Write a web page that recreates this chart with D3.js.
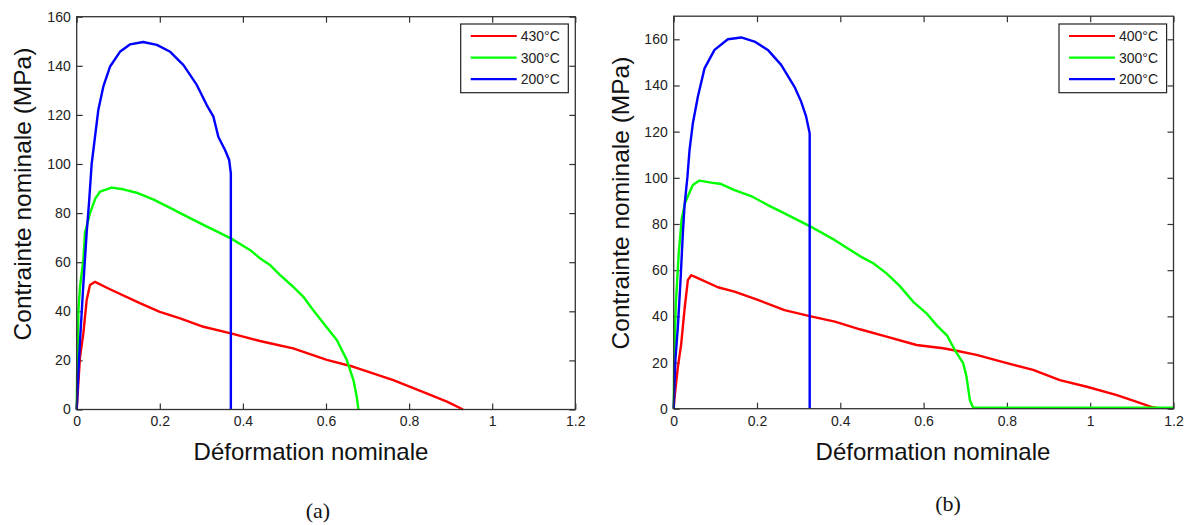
<!DOCTYPE html>
<html><head><meta charset="utf-8">
<script src="https://cdn.jsdelivr.net/npm/d3@7"></script>
<style>
html,body{margin:0;padding:0;background:#fff;}
svg{display:block;font-family:"Liberation Sans",Arial,sans-serif;}
</style></head>
<body><svg id="c" width="1187" height="525"></svg>
<script>
// ---------- data ----------
const xTicks = [0, 0.2, 0.4, 0.6, 0.8, 1, 1.2];
const xTickLabels = ["0", "0.2", "0.4", "0.6", "0.8", "1", "1.2"];
const yTicks = [0, 20, 40, 60, 80, 100, 120, 140, 160];
const yTickLabels = ["0", "20", "40", "60", "80", "100", "120", "140", "160"];
const yMaxA = 160, yMaxB = 170, xMax = 1.2;
const legendA = ["430°C", "300°C", "200°C"];
const legendB = ["400°C", "300°C", "200°C"];
const seriesColors = ["#ff0000", "#00ff00", "#0000ff"];
const xLabel = "Déformation nominale";
const yLabel = "Contrainte nominale (MPa)";
const captions = ["(a)", "(b)"];

// panel (a)
const a430 = [[0,0],[0.0015,4],[0.008,21.5],[0.016,31],[0.024,44.6],[0.032,50.7],[0.044,52],[0.080,49],[0.152,43.3],[0.200,39.8],[0.249,37.1],[0.305,33.7],[0.371,31],[0.441,27.9],[0.465,27],[0.521,24.9],[0.602,20.2],[0.666,17.4],[0.762,12],[0.842,6.6],[0.891,3.2],[0.930,0]];
const a300 = [[0,0],[0.001,15],[0.003,28],[0.004,40],[0.008,50],[0.016,61],[0.020,72],[0.032,80],[0.045,86],[0.056,88.7],[0.084,90.4],[0.112,89.7],[0.144,88.3],[0.184,85.6],[0.232,81.5],[0.249,80],[0.305,75.2],[0.371,69.7],[0.417,65],[0.441,61.6],[0.465,58.9],[0.489,54.8],[0.521,50],[0.545,46],[0.569,40.5],[0.594,35.1],[0.626,28.3],[0.650,20.2],[0.666,12],[0.674,5.2],[0.678,0]];
const a200 = [[0,0],[0.004,15],[0.008,28],[0.016,51],[0.024,72],[0.030,85],[0.036,100],[0.044,111],[0.052,122],[0.064,131.5],[0.080,139.6],[0.104,145.7],[0.128,148.7],[0.160,149.7],[0.193,148.5],[0.225,145.7],[0.257,140.3],[0.289,132.2],[0.313,124],[0.329,119.3],[0.341,111],[0.357,105.7],[0.367,101.6],[0.371,96.2],[0.371,0]];
// panel (b)
const b400 = [[0,0],[0.0015,4],[0.010,18],[0.018,28],[0.026,43],[0.034,55.7],[0.042,57.8],[0.050,57.2],[0.106,52.6],[0.146,50.7],[0.202,47.1],[0.266,42.7],[0.3265,40.1],[0.387,37.7],[0.447,34.4],[0.511,31.2],[0.583,27.6],[0.647,26.2],[0.679,25.1],[0.727,23.3],[0.800,19.7],[0.863,16.8],[0.927,12.4],[0.992,9.5],[1.064,5.9],[1.112,3.0],[1.150,0.6],[1.160,0.4]];
const b300 = [[0,0],[0.001,20],[0.005,45],[0.012,67],[0.019,82],[0.027,89],[0.034,92],[0.046,96.9],[0.062,98.8],[0.090,97.9],[0.114,97.3],[0.146,94.7],[0.186,92.1],[0.226,88.2],[0.266,84.6],[0.3265,79.1],[0.387,73],[0.447,66.1],[0.479,63],[0.511,58.6],[0.543,53.1],[0.575,46.3],[0.607,41.3],[0.631,36.2],[0.657,31.5],[0.675,25.4],[0.695,19.7],[0.703,13.9],[0.711,3.8],[0.719,0.4],[1.2,0.4]];
const b200 = [[0,0],[0.0007,4],[0.004,21],[0.010,35.5],[0.016,54.3],[0.022,76],[0.026,88],[0.033,100.5],[0.038,112],[0.046,123.6],[0.058,135.1],[0.074,147.4],[0.098,155.4],[0.130,160],[0.162,160.8],[0.194,159],[0.226,155.4],[0.258,148.9],[0.290,139.4],[0.306,133],[0.318,126.5],[0.3265,119.3],[0.3265,0]];

// ---------- drawing ----------
const svg = d3.select("#c");
svg.append("rect").attr("width",1187).attr("height",525).attr("fill","#fff");

const panels = [
  {x0:76.7, y0:16.7, w:498.6, h:392.8, yMax:yMaxA, series:[a430,a300,a200], legend:legendA,
   leg:{x:460.7,y:24,w:107.6,h:68.7}, xl:{x:311,y:460}, yl:{x:31,y:194}, cap:{x:318,y:518}},
  {x0:673.7, y0:16.2, w:499.8, h:392.5, yMax:yMaxB, series:[b400,b300,b200], legend:legendB,
   leg:{x:1059,y:24,w:107.6,h:68.7}, xl:{x:933,y:460}, yl:{x:629,y:203}, cap:{x:948,y:511}}
];

panels.forEach((p, pi) => {
  const g = svg.append("g").attr("transform", `translate(${p.x0},${p.y0})`);
  const x = d3.scaleLinear().domain([0, xMax]).range([0, p.w]);
  const y = d3.scaleLinear().domain([0, p.yMax]).range([p.h, 0]);

  const styleAxis = sel => {
    sel.select(".domain").remove();
    sel.selectAll(".tick line").attr("stroke","#333").attr("stroke-width",1.2);
    sel.selectAll(".tick text").attr("fill","#222").style("font-size","14px")
       .style("font-family",'"Liberation Sans",Arial,sans-serif');
  };
  g.append("g").attr("transform",`translate(0,${p.h})`)
    .call(d3.axisBottom(x).tickValues(xTicks).tickFormat((d,i)=>xTickLabels[i]).tickSizeInner(-6).tickSizeOuter(0).tickPadding(7))
    .call(styleAxis);
  g.append("g")
    .call(d3.axisTop(x).tickValues(xTicks).tickFormat("").tickSizeInner(-6).tickSizeOuter(0))
    .call(styleAxis);
  g.append("g")
    .call(d3.axisLeft(y).tickValues(yTicks).tickFormat((d,i)=>yTickLabels[i]).tickSizeInner(-6).tickSizeOuter(0).tickPadding(6))
    .call(styleAxis);
  g.append("g").attr("transform",`translate(${p.w},0)`)
    .call(d3.axisRight(y).tickValues(yTicks).tickFormat("").tickSizeInner(-6).tickSizeOuter(0))
    .call(styleAxis);

  const line = d3.line().x(d => x(d[0])).y(d => y(d[1]));
  p.series.forEach((s, i) => {
    g.append("path").datum(s).attr("d", line).attr("fill","none")
      .attr("stroke", seriesColors[i]).attr("stroke-width", 2.4)
      .attr("stroke-linejoin","round");
  });

  g.append("rect").attr("x",0).attr("y",0).attr("width",p.w).attr("height",p.h)
    .attr("fill","none").attr("stroke","#333").attr("stroke-width",1.3);

  // legend
  const lg = svg.append("g").attr("transform",`translate(${p.leg.x},${p.leg.y})`);
  lg.append("rect").attr("width",p.leg.w).attr("height",p.leg.h)
    .attr("fill","#fff").attr("stroke","#222").attr("stroke-width",1.2);
  p.legend.forEach((t, i) => {
    const cy = 12 + i * 21.6;
    lg.append("line").attr("x1",10).attr("x2",56).attr("y1",cy).attr("y2",cy)
      .attr("stroke", seriesColors[i]).attr("stroke-width",2.2);
    lg.append("text").attr("x",60).attr("y",cy+5).text(t)
      .attr("fill","#222").style("font-size","14px");
  });

  // axis labels
  svg.append("text").attr("x",p.xl.x).attr("y",p.xl.y).attr("text-anchor","middle")
    .style("font-size","24px").attr("fill","#111").text(xLabel);
  svg.append("text").attr("transform",`translate(${p.yl.x},${p.yl.y}) rotate(-90)`)
    .attr("text-anchor","middle").style("font-size","24.5px").attr("fill","#111").text(yLabel);
  svg.append("text").attr("x",p.cap.x).attr("y",p.cap.y).attr("text-anchor","middle")
    .style("font-family",'"Liberation Serif","Times New Roman",serif').style("font-size","22px")
    .attr("fill","#111").text(captions[pi]);
});
</script></body></html>
